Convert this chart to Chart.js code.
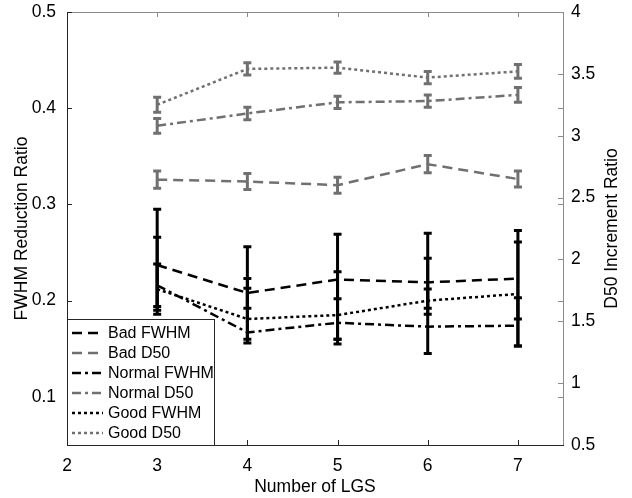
<!DOCTYPE html>
<html>
<head>
<meta charset="utf-8">
<script src="https://cdn.jsdelivr.net/npm/chart.js@4/dist/chart.umd.min.js"></script>
<style>
  body { margin: 0; background: #fff; }
  #wrap { width: 632px; height: 498px; }
</style>
</head>
<body>
<div id="wrap"><canvas id="grafico" width="632" height="498"></canvas></div>
<script>
// number of LGS on the x axis
const lgsCounts = [3, 4, 5, 6, 7];
const xTicks = [2, 3, 4, 5, 6, 7];
const leftTicks = [0.1, 0.2, 0.3, 0.4, 0.5];
const rightTicks = [0.5, 1, 1.5, 2, 2.5, 3, 3.5, 4];

// FWHM reduction ratio (left axis) with error bar ends
const badFwhm = [0.237, 0.208, 0.222, 0.219, 0.223];
const badFwhmLow = [0.186, 0.192, 0.155, 0.192, 0.181];
const badFwhmHigh = [0.295, 0.223, 0.269, 0.244, 0.273];
const normalFwhm = [0.216, 0.167, 0.177, 0.173, 0.174];
const normalFwhmLow = [0.190, 0.160, 0.160, 0.145, 0.153];
const normalFwhmHigh = [0.238, 0.213, 0.202, 0.212, 0.203];
const goodFwhm = [0.212, 0.181, 0.185, 0.200, 0.207];
const goodFwhmLow = [0.194, 0.156, 0.160, 0.186, 0.153];
const goodFwhmHigh = [0.266, 0.256, 0.230, 0.270, 0.261];

// D50 increment ratio (right axis) with +/- error
const badD50 = [2.645, 2.63, 2.60, 2.77, 2.65];
const badD50Err = [0.07, 0.065, 0.065, 0.07, 0.065];
const normalD50 = [3.08, 3.18, 3.27, 3.28, 3.33];
const normalD50Err = [0.06, 0.05, 0.05, 0.05, 0.06];
const goodD50 = [3.25, 3.54, 3.55, 3.47, 3.52];
const goodD50Err = [0.06, 0.05, 0.045, 0.05, 0.055];

const BLACK = '#000000';
const GRAY = '#707070';
const FONT = '"Liberation Sans", Arial, sans-serif';

const DASH = [10, 6];
const DASHDOT = [9, 4, 3, 4];
const DOT = [3, 3];

function pts(ys) {
  return lgsCounts.map((x, i) => ({ x: x, y: ys[i] }));
}
function lows(ys, err) { return ys.map((v, i) => v - err[i]); }
function highs(ys, err) { return ys.map((v, i) => v + err[i]); }

function serie(label, ys, lo, hi, color, dash, axis) {
  return {
    label: label,
    data: pts(ys),
    errLow: lo,
    errHigh: hi,
    yAxisID: axis,
    borderColor: color,
    backgroundColor: color,
    borderWidth: 2.5,
    borderDash: dash,
    pointRadius: 0,
    tension: 0,
    fill: false
  };
}

const datasets = [
  serie('Bad FWHM', badFwhm, badFwhmLow, badFwhmHigh, BLACK, DASH, 'y'),
  serie('Bad D50', badD50, lows(badD50, badD50Err), highs(badD50, badD50Err), GRAY, DASH, 'y1'),
  serie('Normal FWHM', normalFwhm, normalFwhmLow, normalFwhmHigh, BLACK, DASHDOT, 'y'),
  serie('Normal D50', normalD50, lows(normalD50, normalD50Err), highs(normalD50, normalD50Err), GRAY, DASHDOT, 'y1'),
  serie('Good FWHM', goodFwhm, goodFwhmLow, goodFwhmHigh, BLACK, DOT, 'y'),
  serie('Good D50', goodD50, lows(goodD50, goodD50Err), highs(goodD50, goodD50Err), GRAY, DOT, 'y1')
];

// vertical error bars with caps
const errorBars = {
  id: 'errorBars',
  afterDatasetsDraw(chart) {
    const ctx = chart.ctx;
    const xs = chart.scales.x;
    ctx.save();
    chart.data.datasets.forEach(ds => {
      const ys = chart.scales[ds.yAxisID];
      ctx.strokeStyle = ds.borderColor;
      ctx.lineWidth = 3;
      ctx.setLineDash([]);
      ds.data.forEach((p, i) => {
        const x = xs.getPixelForValue(p.x);
        const y1 = ys.getPixelForValue(ds.errLow[i]);
        const y2 = ys.getPixelForValue(ds.errHigh[i]);
        ctx.beginPath();
        ctx.moveTo(x, y1); ctx.lineTo(x, y2);
        ctx.moveTo(x - 4, y1); ctx.lineTo(x + 4, y1);
        ctx.moveTo(x - 4, y2); ctx.lineTo(x + 4, y2);
        ctx.stroke();
      });
    });
    ctx.restore();
  }
};

// box, inward ticks, axis titles and legend
const frame = {
  id: 'frame',
  afterDraw(chart) {
    const ctx = chart.ctx;
    const a = chart.chartArea;
    const xs = chart.scales.x, yl = chart.scales.y, yr = chart.scales.y1;
    const tl = 5;
    ctx.save();
    ctx.setLineDash([]);
    ctx.lineWidth = 1;

    // top and right
    ctx.strokeStyle = '#8a8a8a';
    ctx.beginPath();
    ctx.moveTo(a.left, a.top + 0.5); ctx.lineTo(a.right, a.top + 0.5);
    ctx.moveTo(a.right + 0.5, a.top); ctx.lineTo(a.right + 0.5, a.bottom);
    xTicks.forEach(v => {
      const x = Math.round(xs.getPixelForValue(v)) + 0.5;
      ctx.moveTo(x, a.top); ctx.lineTo(x, a.top + tl);
    });
    rightTicks.forEach(v => {
      const y = Math.round(yr.getPixelForValue(v)) + 0.5;
      ctx.moveTo(a.right, y); ctx.lineTo(a.right - tl, y);
    });
    leftTicks.forEach(v => {
      const y = Math.round(yl.getPixelForValue(v)) + 0.5;
      ctx.moveTo(a.right, y); ctx.lineTo(a.right - tl, y);
    });
    ctx.stroke();

    // left and bottom
    ctx.strokeStyle = '#262626';
    ctx.beginPath();
    ctx.moveTo(a.left + 0.5, a.top); ctx.lineTo(a.left + 0.5, a.bottom);
    ctx.moveTo(a.left, a.bottom + 0.5); ctx.lineTo(a.right + 1, a.bottom + 0.5);
    xTicks.forEach(v => {
      const x = Math.round(xs.getPixelForValue(v)) + 0.5;
      ctx.moveTo(x, a.bottom); ctx.lineTo(x, a.bottom - tl);
    });
    leftTicks.forEach(v => {
      const y = Math.round(yl.getPixelForValue(v)) + 0.5;
      ctx.moveTo(a.left, y); ctx.lineTo(a.left + tl, y);
    });
    ctx.stroke();

    // axis titles
    ctx.fillStyle = '#000';
    ctx.font = '17.5px ' + FONT;
    ctx.textAlign = 'center';
    ctx.textBaseline = 'middle';
    ctx.fillText('Number of LGS', (a.left + a.right) / 2, 487);
    const midY = (a.top + a.bottom) / 2;
    ctx.save();
    ctx.translate(22, midY);
    ctx.rotate(-Math.PI / 2);
    ctx.fillText('FWHM Reduction Ratio', 0, 0);
    ctx.restore();
    ctx.save();
    ctx.translate(612, midY);
    ctx.rotate(-Math.PI / 2);
    ctx.fillText('D50 Increment Ratio', 0, 0);
    ctx.restore();

    // legend
    const bx = a.left, by = 319, bw = 147, bh = a.bottom - 319;
    ctx.fillStyle = '#fff';
    ctx.fillRect(bx, by, bw, bh);
    ctx.strokeStyle = '#262626';
    ctx.lineWidth = 1;
    ctx.strokeRect(bx + 0.5, by + 0.5, bw, bh);
    ctx.font = '16px ' + FONT;
    ctx.textAlign = 'left';
    chart.data.datasets.forEach((ds, i) => {
      const y = 333 + i * 20;
      ctx.strokeStyle = ds.borderColor;
      ctx.lineWidth = 2.5;
      ctx.setLineDash(ds.borderDash);
      ctx.beginPath();
      ctx.moveTo(bx + 5, y); ctx.lineTo(bx + 36, y);
      ctx.stroke();
      ctx.setLineDash([]);
      ctx.fillStyle = '#000';
      ctx.fillText(ds.label, bx + 41, y + 1);
    });
    ctx.restore();
  }
};

const tickFont = { size: 17.5, family: FONT };
const plain = v => String(v);

function init() {
  const grafico = document.getElementById('grafico');
  new Chart(grafico, {
    type: 'line',
    data: { datasets: datasets },
    options: {
      responsive: false,
      animation: false,
      devicePixelRatio: 1,
      layout: { padding: { top: 12, left: 0, right: 0, bottom: 0 } },
      plugins: { legend: { display: false }, tooltip: { enabled: false } },
      scales: {
        x: {
          type: 'linear',
          min: 2, max: 7.5,
          grid: { display: false, drawTicks: false },
          border: { display: false },
          afterBuildTicks: s => { s.ticks = xTicks.map(v => ({ value: v })); },
          afterFit: s => { s.height = 53; s.paddingLeft = 0; s.paddingRight = 0; },
          ticks: { color: '#000', padding: 11, font: tickFont, callback: plain }
        },
        y: {
          position: 'left',
          min: 0.05, max: 0.5,
          grid: { display: false, drawTicks: false },
          border: { display: false },
          afterBuildTicks: s => { s.ticks = leftTicks.map(v => ({ value: v })); },
          afterFit: s => { s.width = 67; s.paddingTop = 0; s.paddingBottom = 0; },
          ticks: { color: '#000', padding: 11, font: tickFont, callback: plain }
        },
        y1: {
          position: 'right',
          min: 0.5, max: 4,
          grid: { display: false, drawTicks: false },
          border: { display: false },
          afterBuildTicks: s => { s.ticks = rightTicks.map(v => ({ value: v })); },
          afterFit: s => { s.width = 69; s.paddingTop = 0; s.paddingBottom = 0; },
          ticks: { color: '#000', padding: 8, font: tickFont, callback: plain }
        }
      }
    },
    plugins: [errorBars, frame]
  });
}

init();
</script>
</body>
</html>
